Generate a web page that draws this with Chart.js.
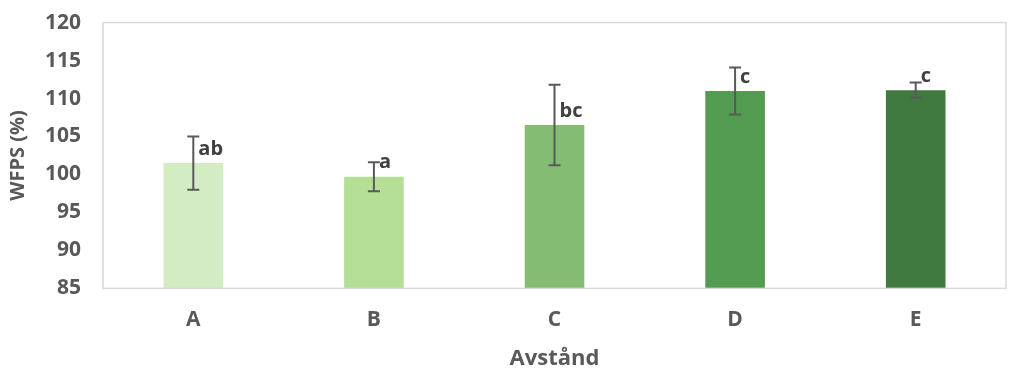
<!DOCTYPE html>
<html>
<head>
<meta charset="utf-8">
<script src="https://cdn.jsdelivr.net/npm/chart.js@4.4.0/dist/chart.umd.min.js"></script>
<style>
  html, body { margin: 0; padding: 0; background: #fff; }
  #outer { width: 1029px; height: 369px; overflow: hidden; }
  #wrap { position: relative; top: -12px; width: 1029px; height: 381px; }
</style>
</head>
<body>
<div id="outer"><div id="wrap"><canvas id="chart"></canvas></div></div>
<script>
const categories = ["A", "B", "C", "D", "E"];
const wfps = [101.5, 99.7, 106.5, 111.0, 111.1];
const errors = [3.5, 1.9, 5.3, 3.1, 1.0];
const letters = ["ab", "a", "bc", "c", "c"];
const barColors = ["#d3ecc4", "#b5df97", "#84bc73", "#529b50", "#417a40"];

const font = "'Open Sans', 'Liberation Sans', sans-serif";
const grey = "#595959";

// boîte du graphique + barres d'erreur + lettres
const extras = {
    id: "extras",
    afterDatasetsDraw(chart) {
        const ctx = chart.ctx;
        const area = chart.chartArea;
        const y = chart.scales.y;
        const meta = chart.getDatasetMeta(0);
        ctx.save();
        ctx.strokeStyle = "#d9d9d9";
        ctx.lineWidth = 1.5;
        ctx.strokeRect(area.left, area.top, area.right - area.left, area.bottom - area.top);

        ctx.strokeStyle = grey;
        ctx.lineWidth = 2;
        meta.data.forEach((bar, i) => {
            const yHi = y.getPixelForValue(wfps[i] + errors[i]);
            const yLo = y.getPixelForValue(wfps[i] - errors[i]);
            ctx.beginPath();
            ctx.moveTo(bar.x, yHi); ctx.lineTo(bar.x, yLo);
            ctx.moveTo(bar.x - 6, yHi); ctx.lineTo(bar.x + 6, yHi);
            ctx.moveTo(bar.x - 6, yLo); ctx.lineTo(bar.x + 6, yLo);
            ctx.stroke();

            ctx.fillStyle = "#404040";
            ctx.font = "bold 20px " + font;
            ctx.textAlign = "left";
            ctx.textBaseline = "middle";
            ctx.fillText(letters[i], bar.x + 5, bar.y - 14);
        });
        ctx.restore();
    }
};

new Chart(document.getElementById("chart"), {
    type: "bar",
    data: {
        labels: categories,
        datasets: [{
            data: wfps,
            backgroundColor: barColors,
            barPercentage: 0.66,
            categoryPercentage: 0.5
        }]
    },
    options: {
        responsive: true,
        maintainAspectRatio: false,
        animation: false,
        layout: { padding: { top: -15, right: 23, bottom: -3, left: 6 } },
        plugins: {
            legend: { display: false },
            tooltip: { enabled: false }
        },
        scales: {
            x: {
                grid: { display: false, drawTicks: false },
                border: { display: false },
                ticks: { color: grey, font: { family: font, size: 21, weight: "bold" }, padding: 19 },
                title: { display: true, text: "Avstånd", color: grey, font: { family: font, size: 22, weight: "bold" }, padding: { top: -6, bottom: 0 } }
            },
            y: {
                min: 85,
                max: 120,
                afterFit: (scale) => { scale.width = 97; },
                grid: { display: false, drawTicks: false },
                border: { display: false },
                ticks: { stepSize: 5, color: grey, font: { family: font, size: 21, weight: "bold" }, padding: 22 },
                title: { display: true, text: "WFPS (%)", color: grey, font: { family: font, size: 20, weight: "bold" }, padding: { top: 0, bottom: 2 } }
            }
        }
    },
    plugins: [extras]
});
</script>
</body>
</html>
